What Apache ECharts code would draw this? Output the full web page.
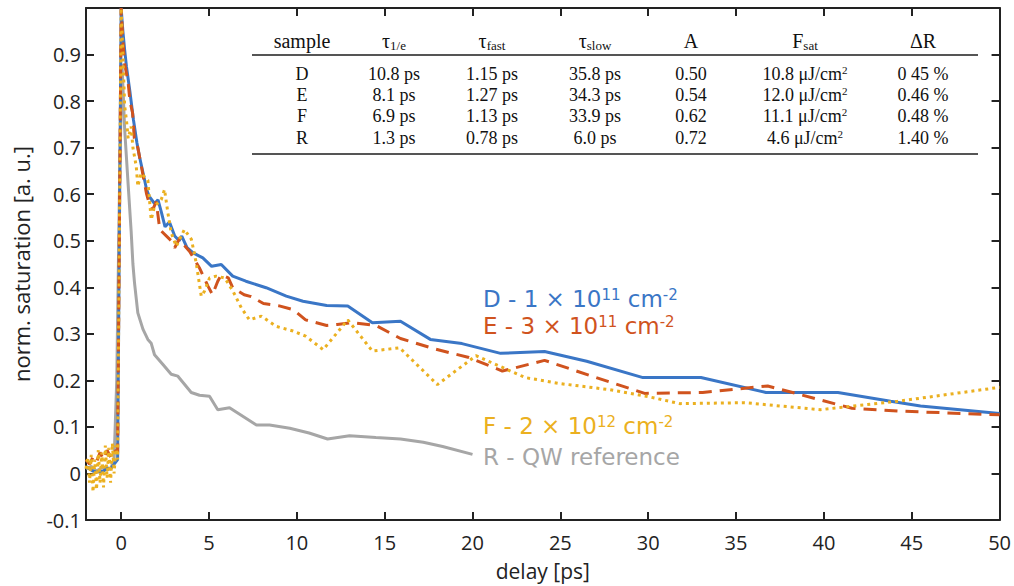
<!DOCTYPE html>
<html>
<head>
<meta charset="utf-8">
<script src="https://cdn.jsdelivr.net/npm/echarts@6.0.0/dist/echarts.min.js"></script>
<style>
  html, body { margin: 0; padding: 0; background: #fff; }
  #main { width: 1014px; height: 586px; }
</style>
</head>
<body>
<div id="main"></div>
<script>
  // sample D (solid blue)
  var tD = [-2, -1.8, -1.6, -1.4, -1.2, -1.0, -0.8, -0.6, -0.4, -0.2, 0, 0.1, 0.2, 0.3, 0.5, 0.7, 0.9, 1.05, 1.25, 1.45, 1.6, 1.9, 2.1, 2.3, 2.5, 2.75, 3.05, 3.3, 3.45, 3.75, 4.1, 4.65, 5.15, 5.7, 6.35, 7.1, 8.25, 9.4, 10.35, 11.7, 12.9, 14.3, 15.9, 17.6, 19.4, 21.6, 24.1, 26.5, 29.7, 33.0, 36.7, 40.8, 43.8, 45.5, 50]
  var vD = [0.015, 0.01, 0.005, 0.003, 0.004, 0.005, 0.012, 0.01, 0.02, 0.03, 1.0, 0.95, 0.91, 0.875, 0.82, 0.76, 0.71, 0.68, 0.645, 0.61, 0.595, 0.58, 0.588, 0.56, 0.53, 0.54, 0.51, 0.50, 0.51, 0.485, 0.474, 0.463, 0.445, 0.449, 0.424, 0.413, 0.399, 0.381, 0.37, 0.361, 0.36, 0.324, 0.327, 0.288, 0.279, 0.258, 0.262, 0.241, 0.206, 0.206, 0.174, 0.174, 0.155, 0.145, 0.129]

  // sample E (dashed red)
  var tE = [-2, -1.8, -1.6, -1.4, -1.2, -1.0, -0.8, -0.6, -0.4, -0.2, 0, 0.1, 0.2, 0.4, 0.5, 0.65, 0.75, 0.95, 1.25, 1.45, 1.6, 1.8, 2.0, 2.2, 2.85, 3.05, 3.35, 3.6, 3.9, 4.45, 4.95, 5.2, 5.5, 5.7, 6.1, 6.35, 7.0, 7.4, 8.1, 9.0, 9.8, 10.5, 11.7, 12.3, 13.2, 14.5, 15.9, 17.8, 19.8, 21.7, 24.1, 26.8, 29.8, 33.1, 36.8, 41.6, 44.2, 50]
  var vE = [0.03, 0.02, 0.035, 0.025, 0.045, 0.03, 0.05, 0.035, 0.05, 0.045, 1.0, 0.93, 0.88, 0.84, 0.80, 0.775, 0.72, 0.70, 0.64, 0.60, 0.58, 0.567, 0.584, 0.524, 0.50, 0.485, 0.507, 0.49, 0.477, 0.442, 0.402, 0.384, 0.413, 0.427, 0.42, 0.399, 0.384, 0.38, 0.365, 0.36, 0.352, 0.33, 0.318, 0.32, 0.324, 0.318, 0.29, 0.268, 0.249, 0.22, 0.243, 0.209, 0.172, 0.174, 0.188, 0.14, 0.134, 0.126]

  // sample F (dotted yellow)
  var tF = [-2, -1.9, -1.8, -1.7, -1.6, -1.5, -1.4, -1.3, -1.2, -1.1, -1.0, -0.9, -0.8, -0.7, -0.6, -0.5, -0.4, -0.3, -0.2, 0, 0.1, 0.2, 0.3, 0.4, 0.57, 0.67, 0.86, 0.95, 1.14, 1.52, 1.71, 1.9, 2.28, 2.47, 2.66, 2.85, 3.14, 3.6, 4.0, 4.27, 4.56, 4.75, 5.03, 5.4, 5.9, 6.36, 6.84, 7.3, 7.98, 8.83, 9.78, 10.5, 11.5, 12.9, 14.3, 15.85, 18.0, 20.2, 23.0, 25.0, 27.8, 30.0, 31.8, 35.5, 39.8, 44.2, 50]
  var vF = [0.01, 0.035, -0.02, 0.04, -0.04, 0.03, -0.035, 0.05, -0.02, 0.045, -0.03, 0.06, -0.01, 0.055, -0.02, 0.065, 0.0, 0.06, 0.03, 1.0, 0.9, 0.79, 0.76, 0.72, 0.745, 0.70, 0.66, 0.617, 0.645, 0.63, 0.545, 0.574, 0.588, 0.61, 0.56, 0.517, 0.488, 0.524, 0.503, 0.453, 0.381, 0.392, 0.42, 0.424, 0.42, 0.392, 0.356, 0.33, 0.338, 0.316, 0.306, 0.295, 0.266, 0.33, 0.263, 0.27, 0.191, 0.253, 0.206, 0.193, 0.18, 0.165, 0.15, 0.152, 0.137, 0.155, 0.185]

  // sample R, QW reference (grey)
  var tR = [-2, -1.7, -1.4, -1.1, -0.8, -0.6, -0.4, -0.25, -0.1, 0.05, 0.2, 0.4, 0.57, 0.67, 0.76, 0.95, 1.24, 1.52, 1.71, 1.9, 2.38, 2.85, 3.23, 3.99, 4.46, 5.03, 5.5, 6.17, 7.7, 8.45, 9.6, 10.7, 11.75, 13.0, 14.5, 15.9, 17.2, 18.3, 20]
  var vR = [0.01, 0.015, 0.005, 0.012, 0.008, 0.01, 0.03, 0.2, 0.6, 0.88, 0.74, 0.62, 0.52, 0.45, 0.41, 0.345, 0.31, 0.288, 0.28, 0.255, 0.234, 0.213, 0.209, 0.174, 0.168, 0.166, 0.137, 0.141, 0.104, 0.104, 0.097, 0.087, 0.074, 0.081, 0.077, 0.074, 0.067, 0.058, 0.041]

  var xTicks = [0, 5, 10, 15, 20, 25, 30, 35, 40, 45, 50]

  // fit results table
  var tableHead = ['sample', '{t|τ}{s|1/e}', '{t|τ}{s|fast}', '{t|τ}{s|slow}', 'A', '{t|F}{s|sat}', 'ΔR']
  var tableRows = [
    ['D', '10.8 ps', '1.15 ps', '35.8 ps', '0.50', '{t|10.8 μJ/cm}{p|2}', '0 45 %'],
    ['E', '8.1 ps', '1.27 ps', '34.3 ps', '0.54', '{t|12.0 μJ/cm}{p|2}', '0.46 %'],
    ['F', '6.9 ps', '1.13 ps', '33.9 ps', '0.62', '{t|11.1 μJ/cm}{p|2}', '0.48 %'],
    ['R', '1.3 ps', '0.78 ps', '6.0 ps', '0.72', '{t|4.6 μJ/cm}{p|2}', '1.40 %']
  ]

  var colors = { D: '#3a76c6', E: '#d0531e', F: '#ebb020', R: '#a6a6a6' }

  function zip (t, v) {
    var out = []
    for (var i = 0; i < t.length; i++) out.push([t[i], v[i]])
    return out
  }

  var colX = [302, 394, 492, 595, 691, 805, 923]
  var rowY = [74, 95, 116, 138]
  var serif = '"Liberation Serif", "Times New Roman", serif'
  var cellSize = 18
  var tableRich = {
    t: { fontSize: cellSize, fontFamily: serif, lineHeight: 19, verticalAlign: 'middle', fill: '#111' },
    s: { fontSize: 12, fontFamily: serif, lineHeight: 12, verticalAlign: 'bottom', fill: '#111' },
    p: { fontSize: 11, fontFamily: serif, lineHeight: 11, verticalAlign: 'top', fill: '#111' }
  }
  var headRich = {
    t: { fontSize: 20, fontFamily: serif, lineHeight: 22, verticalAlign: 'middle', fill: '#111' },
    s: { fontSize: 13, fontFamily: serif, lineHeight: 13, verticalAlign: 'bottom', fill: '#111' }
  }

  var graphics = []
  tableHead.forEach(function (h, i) {
    graphics.push({
      type: 'text', x: colX[i], y: 41,
      style: { text: h, rich: headRich, fontSize: 20, fontFamily: serif, fill: '#111', align: 'center', verticalAlign: 'middle' }
    })
  })
  tableRows.forEach(function (row, r) {
    row.forEach(function (cell, i) {
      graphics.push({
        type: 'text', x: colX[i], y: rowY[r],
        style: { text: cell, rich: tableRich, fontSize: cellSize, fontFamily: serif, fill: '#111', align: 'center', verticalAlign: 'middle' }
      })
    })
  })
  graphics.push({ type: 'line', shape: { x1: 252, y1: 55, x2: 978, y2: 55 }, style: { stroke: '#555', lineWidth: 2 } })
  graphics.push({ type: 'line', shape: { x1: 252, y1: 154, x2: 978, y2: 154 }, style: { stroke: '#555', lineWidth: 2 } })

  var sans = '"Open Sans", "DejaVu Sans", sans-serif'
  var labelFont = '"DejaVu Sans", sans-serif'
  function seriesLabel (text, color, y) {
    return {
      type: 'text', x: 483, y: y,
      style: {
        text: text, fill: color, fontSize: 23, fontFamily: labelFont, align: 'left', verticalAlign: 'middle',
        rich: {
          b: { fontSize: 23, fontFamily: labelFont, lineHeight: 23, verticalAlign: 'middle', fill: color },
          u: { fontSize: 15, fontFamily: labelFont, lineHeight: 15, verticalAlign: 'top', fill: color }
        }
      }
    }
  }
  graphics.push(seriesLabel('{b|D - 1 × 10}{u|11}{b| cm}{u|-2}', colors.D, 299))
  graphics.push(seriesLabel('{b|E - 3 × 10}{u|11}{b| cm}{u|-2}', colors.E, 326))
  graphics.push(seriesLabel('{b|F - 2 × 10}{u|12}{b| cm}{u|-2}', colors.F, 426))
  graphics.push(seriesLabel('{b|R - QW reference}', colors.R, 457))

  var axisLineStyle = { color: '#222', width: 2 }
  var option = {
    animation: false,
    backgroundColor: '#fff',
    grid: { left: 86, right: 14, top: 8, bottom: 65 },
    xAxis: [
      {
        type: 'value', min: -2, max: 50, position: 'bottom',
        name: 'delay [ps]', nameLocation: 'middle', nameGap: 40,
        nameTextStyle: { fontSize: 21, fontFamily: sans, color: '#222' },
        axisLine: { onZero: false, lineStyle: axisLineStyle },
        axisTick: { inside: true, length: 8, lineStyle: axisLineStyle, customValues: xTicks },
        axisLabel: { fontSize: 20, fontFamily: sans, color: '#222', margin: 12, customValues: xTicks },
        splitLine: { show: false }
      },
      {
        type: 'value', min: -2, max: 50, position: 'top',
        axisLine: { onZero: false, lineStyle: axisLineStyle },
        axisTick: { inside: true, length: 8, lineStyle: axisLineStyle, customValues: xTicks },
        axisLabel: { show: false },
        splitLine: { show: false }
      }
    ],
    yAxis: [
      {
        type: 'value', min: -0.1, max: 1.0, interval: 0.1, position: 'left',
        name: 'norm. saturation [a. u.]', nameLocation: 'middle', nameGap: 54,
        nameTextStyle: { fontSize: 22, fontFamily: sans, color: '#222' },
        axisLine: { show: true, onZero: false, lineStyle: axisLineStyle },
        axisTick: { show: true, inside: true, length: 8, lineStyle: axisLineStyle },
        axisLabel: {
          fontSize: 20, fontFamily: sans, color: '#222', margin: 5,
          formatter: function (v) { return v > 0.95 ? '' : String(+v.toFixed(1)) }
        },
        splitLine: { show: false }
      },
      {
        type: 'value', min: -0.1, max: 1.0, interval: 0.1, position: 'right',
        axisLine: { show: true, onZero: false, lineStyle: axisLineStyle },
        axisTick: { show: true, inside: true, length: 8, lineStyle: axisLineStyle },
        axisLabel: { show: false },
        splitLine: { show: false }
      }
    ],
    series: [
      {
        name: 'R', type: 'line', data: zip(tR, vR), showSymbol: false, z: 1,
        lineStyle: { color: colors.R, width: 3 }
      },
      {
        name: 'D', type: 'line', data: zip(tD, vD), showSymbol: false, z: 2,
        lineStyle: { color: colors.D, width: 3 }
      },
      {
        name: 'E', type: 'line', data: zip(tE, vE), showSymbol: false, z: 3,
        lineStyle: { color: colors.E, width: 3, type: [13, 8] }
      },
      {
        name: 'F', type: 'line', data: zip(tF, vF), showSymbol: false, z: 4,
        lineStyle: { color: colors.F, width: 3, type: [3, 4] }
      }
    ],
    graphic: graphics
  }

  var chart = echarts.init(document.getElementById('main'), null, { renderer: 'svg' })
  chart.setOption(option)
</script>
</body>
</html>
